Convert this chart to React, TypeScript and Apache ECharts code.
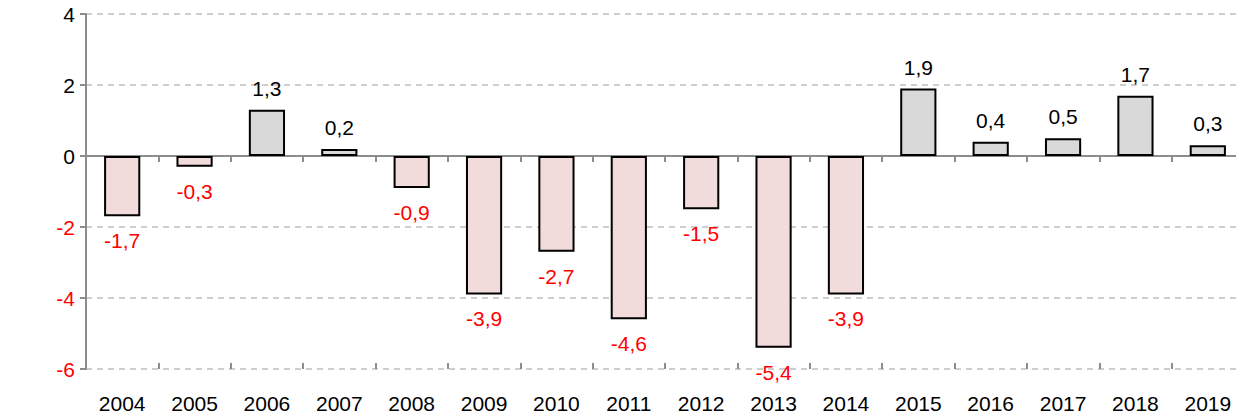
import React, { useEffect, useRef } from "react";
import * as echarts from "echarts";

const years = ["2004","2005","2006","2007","2008","2009","2010","2011","2012","2013","2014","2015","2016","2017","2018","2019"];
const values = [-1.7,-0.3,1.3,0.2,-0.9,-3.9,-2.7,-4.6,-1.5,-5.4,-3.9,1.9,0.4,0.5,1.7,0.3];
const yMin = -6;
const yMax = 4;
const yStep = 2;

const FONT = "'Liberation Sans', Arial, sans-serif";
const RED = "#ff0000";
const FS = 21;

export default function App() {
  const ref = useRef<HTMLDivElement>(null);
  useEffect(() => {
    if (!ref.current) return;
    const chart = echarts.init(ref.current, null, { renderer: "svg" });
    const fmt = (v: number) => String(v).replace(".", ",");
    chart.setOption({
      animation: false,
      textStyle: { fontFamily: FONT },
      grid: { left: 86, right: 6, top: 14, bottom: 44 },
      xAxis: [
        {
          type: "category",
          data: years,
          position: "bottom",
          axisLine: { show: false, onZero: false },
          axisTick: { show: false },
          axisLabel: { color: "#000", fontSize: FS, fontFamily: FONT, margin: 24 },
          splitLine: { show: false },
        },
        {
          type: "category",
          data: years,
          position: "bottom",
          axisLine: { show: true, onZero: true, lineStyle: { color: "#8c8c8c", width: 2 } },
          axisTick: { show: true, length: 6, lineStyle: { color: "#8c8c8c", width: 2 } },
          axisLabel: { show: false },
          splitLine: { show: false },
        },
        {
          type: "category",
          data: years,
          position: "bottom",
          axisLine: { show: false, onZero: true },
          axisTick: { show: true, inside: true, length: 6, lineStyle: { color: "#8c8c8c", width: 2 } },
          axisLabel: { show: false },
          splitLine: { show: false },
        },
      ],
      yAxis: {
        type: "value",
        min: yMin,
        max: yMax,
        interval: yStep,
        axisLine: { show: true, lineStyle: { color: "#8c8c8c", width: 2 } },
        axisTick: { show: true, length: 6, lineStyle: { color: "#8c8c8c", width: 2 } },
        axisLabel: {
          fontSize: FS,
          fontFamily: FONT,
          margin: 11,
          color: (v: any) => (Number(v) < 0 ? RED : "#000"),
        },
        splitLine: {
          show: true,
          lineStyle: { color: "#bfbfbf", type: [6, 5], width: 1.5 },
        },
      },
      series: [
        {
          type: "bar",
          xAxisIndex: 0,
          barWidth: "50%",
          data: values.map((v) => ({
            value: v,
            itemStyle: {
              color: v < 0 ? "#f2dcdb" : "#d9d9d9",
              borderColor: "#000",
              borderWidth: 2,
            },
            label: {
              show: true,
              position: v < 0 ? "bottom" : "top",
              distance: v < 0 ? 14 : 11,
              color: v < 0 ? RED : "#000",
              fontSize: FS,
              fontFamily: FONT,
              formatter: () => fmt(v),
            },
          })),
        },
      ],
    });
    return () => chart.dispose();
  }, []);
  return (
    <div style={{ position: "absolute", left: 0, top: 0, width: 1236, height: 414, overflow: "hidden", background: "#fff" }}>
      <div ref={ref} style={{ width: 1250, height: 414 }} />
    </div>
  );
}
